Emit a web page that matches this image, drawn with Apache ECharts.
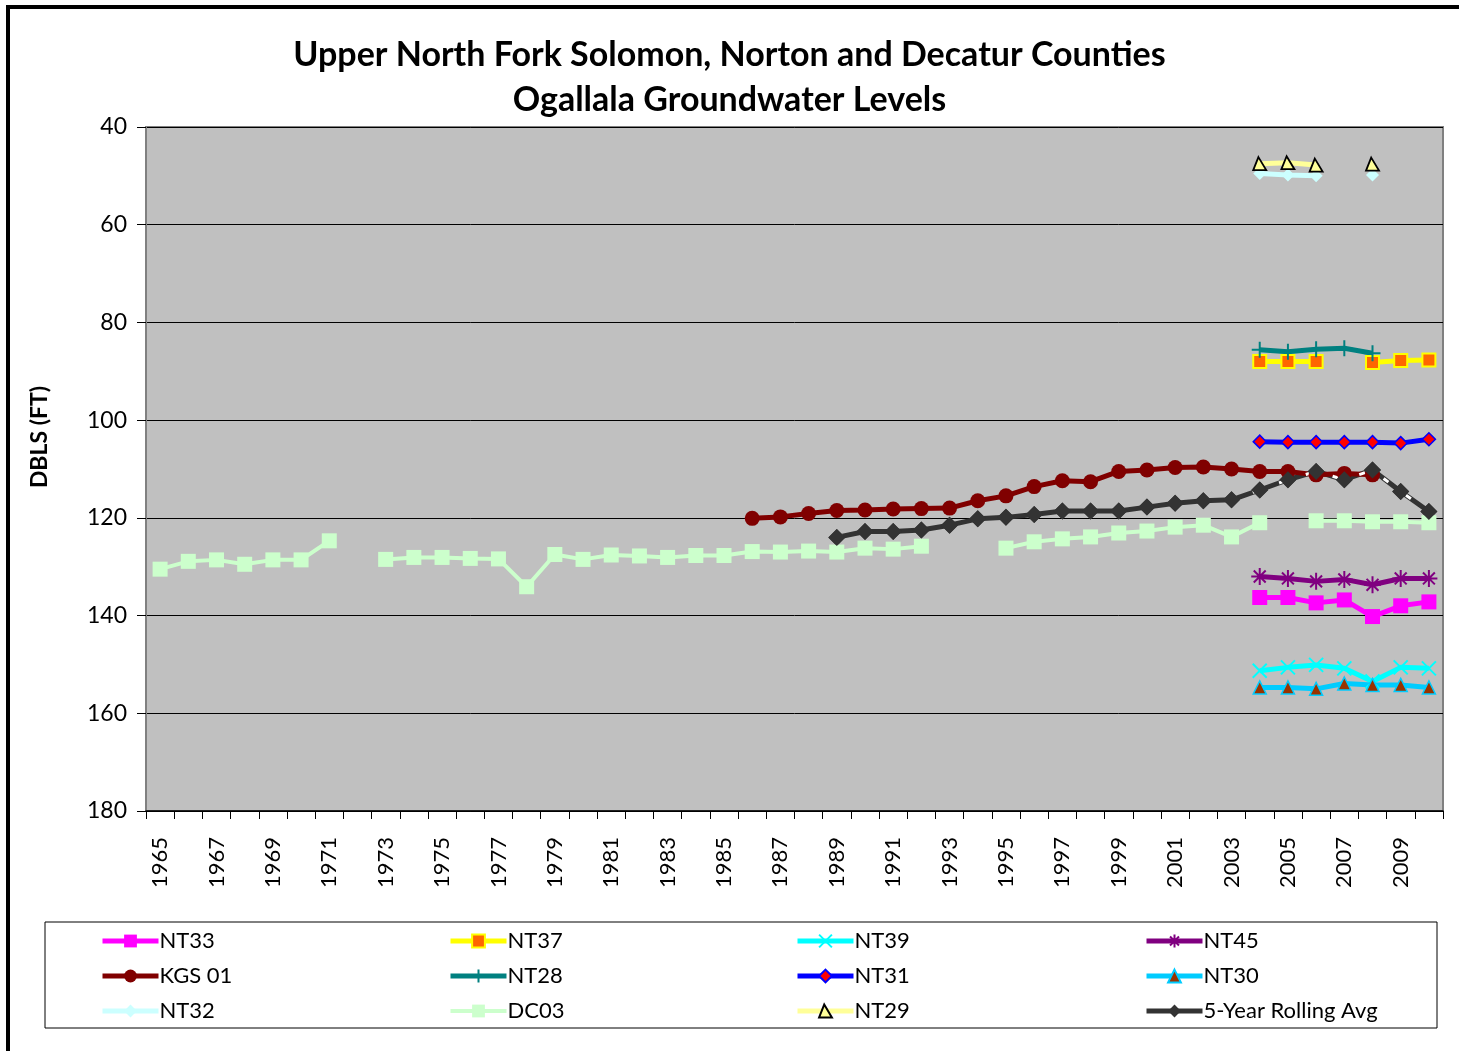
<!DOCTYPE html>
<html>
<head>
<meta charset="utf-8">
<title>Ogallala Groundwater Levels</title>
<script src="https://cdn.jsdelivr.net/npm/echarts@6/dist/echarts.min.js"></script>
<style>
  html, body { margin: 0; padding: 0; background: #fff; }
  #main { width: 1459px; height: 1051px; }
</style>
</head>
<body>
<div id="main"></div>
<script>
// years on the x axis
var years = ['1965','1966','1967','1968','1969','1970','1971','1972','1973','1974',
  '1975','1976','1977','1978','1979','1980','1981','1982','1983','1984',
  '1985','1986','1987','1988','1989','1990','1991','1992','1993','1994',
  '1995','1996','1997','1998','1999','2000','2001','2002','2003','2004',
  '2005','2006','2007','2008','2009','2010'];

// depth below land surface (ft), each list starts at the year given
var nt33 = [136.3, 136.3, 137.4, 136.8, 140.2, 138.0, 137.2];          // 2004
var nt37 = [88.0, 88.0, 88.0, null, 88.2, 87.8, 87.7];                 // 2004
var nt39 = [151.3, 150.6, 150.1, 150.8, 153.5, 150.6, 150.8];          // 2004
var nt45 = [132.0, 132.4, 133.0, 132.6, 133.7, 132.4, 132.4];          // 2004
var kgs01 = [120.1, 119.8, 119.1, 118.5, 118.4, 118.2, 118.1, 118.0, 116.5, 115.5,
  113.6, 112.4, 112.6, 110.5, 110.2, 109.7, 109.6, 110.0, 110.5, 110.5,
  111.2, 110.9, 111.2];                                                // 1986
var nt28 = [85.6, 86.0, 85.5, 85.3, 86.3];                             // 2004
var nt31 = [104.4, 104.5, 104.5, 104.5, 104.5, 104.7, 103.9];          // 2004
var nt30 = [154.7, 154.7, 155.0, 153.9, 154.2, 154.2, 154.7];          // 2004
var nt32 = [49.5, 49.8, 50.0, null, 49.8];                             // 2004
var dc03 = [130.5, 128.9, 128.6, 129.5, 128.6, 128.6, 124.7, null, 128.5, 128.1,
  128.1, 128.3, 128.4, 134.1, 127.5, 128.5, 127.6, 127.8, 128.1, 127.7,
  127.7, 126.9, 127.0, 126.8, 127.0, 126.2, 126.4, 125.8, null, null,
  126.2, 124.9, 124.3, 123.9, 123.1, 122.7, 121.9, 121.5, 123.9, 121.0,
  null, 120.6, 120.6, 120.8, 120.8, 121.0];                            // 1965
var nt29 = [47.5, 47.3, 47.8, null, 47.6];                             // 2004
var rolling = [124.0, 122.8, 122.8, 122.5, 121.5, 120.2, 119.9, 119.3, 118.6, 118.6,
  118.6, 117.8, 117.0, 116.5, 116.3, 114.3, 112.2, 110.5, 112.2, 110.2,
  114.6, 118.7];                                                       // 1989

function fromYear(start, vals) {
  var out = years.map(function () { return null; });
  var i0 = years.indexOf(String(start));
  vals.forEach(function (v, i) { out[i0 + i] = v; });
  return out;
}

var FONT = 'Lato, "Open Sans", sans-serif';
var starPath = 'path://M5,0 L5,10 M0,5 L10,5 M1.5,1.5 L8.5,8.5 M8.5,1.5 L1.5,8.5';
var xPath = 'path://M0,0 L10,10 M10,0 L0,10';
var plusPath = 'path://M5,0 L5,10 M2.5,5 L7.5,5';
var triPath = 'path://M4,0 L10,10 L0,10 Z';

function lineSeries(name, data, color, symbol, size, item, extra) {
  var s = {
    name: name,
    type: 'line',
    data: data,
    connectNulls: false,
    symbol: symbol,
    symbolSize: size,
    showAllSymbol: true,
    lineStyle: { color: color, width: 5 },
    itemStyle: Object.assign({ color: color }, item || {}),
    emphasis: { disabled: true }
  };
  return Object.assign(s, extra || {});
}

var series = [
  lineSeries('NT33', fromYear(2004, nt33), '#FF00FF', 'rect', 15),
  lineSeries('NT37', fromYear(2004, nt37), '#FFFF00', 'rect', 13,
    { color: '#FF6600', borderColor: '#FFFF00', borderWidth: 2 }),
  lineSeries('NT39', fromYear(2004, nt39), '#00FFFF', xPath, 14,
    { color: '#00FFFF', borderColor: '#00FFFF', borderWidth: 2 }),
  lineSeries('NT45', fromYear(2004, nt45), '#800080', starPath, 17,
    { color: '#800080', borderColor: '#800080', borderWidth: 2 }),
  lineSeries('KGS 01', fromYear(1986, kgs01), '#800000', 'circle', 15),
  lineSeries('NT28', fromYear(2004, nt28), '#008080', plusPath, 16,
    { color: '#008080', borderColor: '#008080', borderWidth: 2 }),
  lineSeries('NT31', fromYear(2004, nt31), '#0000FF', 'diamond', 13,
    { color: '#FF0000', borderColor: '#0000FF', borderWidth: 1.5 }),
  lineSeries('NT30', fromYear(2004, nt30), '#00CCFF', 'triangle', 13,
    { color: '#993300', borderColor: '#00CCFF', borderWidth: 1.5 }),
  lineSeries('NT32', fromYear(2004, nt32), '#CCFFFF', 'diamond', 13),
  lineSeries('DC03', fromYear(1965, dc03), '#CCFFCC', 'rect', 15, null,
    { lineStyle: { color: '#CCFFCC', width: 4 } }),
  lineSeries('NT29', fromYear(2004, nt29), '#FFFF99', triPath, 13,
    { color: '#FFFF99', borderColor: '#000000', borderWidth: 1.8 }),
  // rolling average: dark line, white dashes on top, diamonds on top of that
  lineSeries('5-Year Rolling Avg', fromYear(1989, rolling), '#333333', 'diamond', 17, null,
    { z: 2 }),
  lineSeries('5-Year Rolling Avg', fromYear(1989, rolling), '#FFFFFF', 'none', 0, null,
    { z: 3, lineStyle: { color: '#FFFFFF', width: 3, type: [6, 22] } }),
  lineSeries('5-Year Rolling Avg', fromYear(1989, rolling), '#333333', 'diamond', 17, null,
    { z: 4, lineStyle: { width: 0, opacity: 0 } })
];

function legendCol(left, names) {
  return {
    orient: 'vertical',
    left: left,
    top: 924,
    itemWidth: 56,
    itemHeight: 16,
    itemGap: 11,
    selectedMode: false,
    lineStyle: { width: 'inherit' },
    textStyle: { fontFamily: FONT, fontSize: 22, color: '#000', lineHeight: 24, padding: [0, 0, 0, -4] },
    data: names
  };
}

var chart = echarts.init(document.getElementById('main'));
chart.setOption({
  animation: false,
  backgroundColor: '#fff',
  title: {
    text: 'Upper North Fork Solomon, Norton and Decatur Counties\nOgallala Groundwater Levels',
    left: 'center',
    top: 28,
    textStyle: { fontFamily: FONT, fontWeight: 'bold', fontSize: 34, lineHeight: 45, color: '#000' }
  },
  legend: [
    legendCol(95, ['NT33', 'KGS 01', 'NT32']),
    legendCol(443, ['NT37', 'NT28', 'DC03']),
    legendCol(790, ['NT39', 'NT31', 'NT29']),
    legendCol(1139, ['NT45', 'NT30', '5-Year Rolling Avg'])
  ],
  grid: { left: 146, top: 127, width: 1297, height: 684, show: true,
    backgroundColor: '#C0C0C0', borderColor: '#808080', borderWidth: 2 },
  xAxis: {
    type: 'category',
    data: years,
    boundaryGap: true,
    axisLine: { lineStyle: { color: '#000', width: 1.5 } },
    axisTick: { show: true, interval: 0, length: 8, lineStyle: { color: '#000' } },
    axisLabel: { interval: 1, rotate: 90, margin: 26, fontFamily: FONT, fontSize: 22, color: '#000' },
    splitLine: { show: false }
  },
  yAxis: {
    type: 'value',
    inverse: true,
    min: 40,
    max: 180,
    interval: 20,
    axisLine: { show: true, lineStyle: { color: '#808080', width: 2 } },
    axisTick: { show: true, length: 9, lineStyle: { color: '#000' } },
    axisLabel: { margin: 19, fontFamily: FONT, fontSize: 23, color: '#000' },
    splitLine: { lineStyle: { color: '#000', width: 1 } }
  },
  graphic: [
    { type: 'rect', shape: { x: 8, y: 7, width: 1600, height: 1200 },
      style: { fill: null, stroke: '#000', lineWidth: 4 }, silent: true },
    { type: 'rect', shape: { x: 45, y: 922, width: 1392, height: 106 },
      style: { fill: null, stroke: '#000', lineWidth: 1 }, silent: true, z: -1 },
    { type: 'text', x: 40, y: 437, rotation: Math.PI / 2, silent: true,
      style: { text: 'DBLS (FT)', fontFamily: FONT, fontWeight: 'bold', fontSize: 23,
        fill: '#000', align: 'center', verticalAlign: 'middle' } }
  ],
  series: series
});
</script>
</body>
</html>
